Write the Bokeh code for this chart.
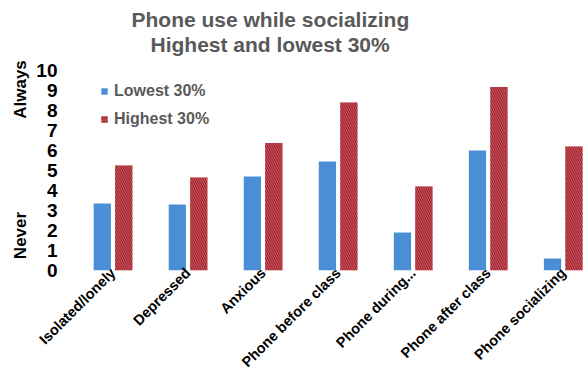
from math import pi
from bokeh.plotting import figure
from bokeh.layouts import row
from bokeh.models import Range1d, FixedTicker, ColumnDataSource, Title
from bokeh.core.properties import value
from bokeh.embed import file_html
from bokeh.resources import INLINE

categories = ["Isolated/lonely", "Depressed", "Anxious", "Phone before class",
              "Phone during...", "Phone after class", "Phone socializing"]
lowest_30 = [3.35, 3.3, 4.7, 5.45, 1.9, 6.0, 0.6]
highest_30 = [5.25, 4.65, 6.37, 8.4, 4.2, 9.17, 6.2]
y_ticks = [0, 1, 2, 3, 4, 5, 6, 7, 8, 9, 10]
end_labels = ["Always", "Never"]
end_label_pos = [9.05, 1.75]

FONT = "Liberation Sans"
xs = list(range(len(categories)))
src = ColumnDataSource(dict(
    xl=[x - 0.143 for x in xs], xh=[x + 0.143 for x in xs],
    low=lowest_30, high=highest_30))

yr = Range1d(0, 10.75)

# narrow side figure holding the "Always" / "Never" axis words
side = figure(width=33, height=379, output_backend="svg", toolbar_location=None,
              x_range=Range1d(0, 33), y_range=yr,
              x_axis_type=None, y_axis_type=None, min_border=0)
side.outline_line_color = None
side.grid.grid_line_color = None
side.text(x=[20, 20], y=end_label_pos, text=end_labels, angle=pi / 2,
          text_align="center", text_baseline="middle",
          text_font=value(FONT), text_font_style="bold",
          text_font_size="17px", text_color="black")

p = figure(width=550, height=379, output_backend="svg", toolbar_location=None,
           x_range=Range1d(-0.5, 6.27), y_range=yr,
           min_border_left=42, min_border_right=0, min_border_top=55,
           min_border_bottom=109)
p.outline_line_color = None
p.grid.grid_line_color = None
p.background_fill_color = "white"

p.vbar(x="xl", top="low", width=0.23, source=src, fill_color="#4a8fd6",
       line_color=None, legend_label="Lowest 30%")
p.vbar(x="xh", top="high", width=0.23, source=src, fill_color="#f26470",
       line_color=None, hatch_pattern="\\", hatch_color="#7c1820",
       hatch_scale=4.5, hatch_weight=1.1, legend_label="Highest 30%")

# titles (added nearest-first)
p.add_layout(Title(text="Highest and lowest 30%", align="left", offset=75,
                   text_font=FONT, text_font_style="bold", text_font_size="21px",
                   text_line_height=1.0,
                   text_color="#595959", standoff=0), "above")
p.add_layout(Title(text="Phone use while socializing", align="left", offset=56,
                   text_font=FONT, text_font_style="bold", text_font_size="21px",
                   text_line_height=1.0,
                   text_color="#595959", standoff=0), "above")

# axes
p.xaxis.ticker = FixedTicker(ticks=xs)
p.xaxis.major_label_overrides = {i: c for i, c in enumerate(categories)}
p.xaxis.major_label_orientation = pi / 4
p.xaxis.major_label_text_font = FONT
p.xaxis.major_label_text_font_style = "bold"
p.xaxis.major_label_text_font_size = "14.5px"
p.xaxis.major_label_text_line_height = 1.0
p.xaxis.major_label_text_color = "black"
p.xaxis.axis_line_color = None
p.xaxis.major_tick_line_color = None
p.xaxis.minor_tick_line_color = None
p.xaxis.major_tick_out = 0
p.xaxis.major_label_standoff = 0

p.yaxis.ticker = FixedTicker(ticks=y_ticks)
p.yaxis.major_label_text_font = FONT
p.yaxis.major_label_text_font_style = "bold"
p.yaxis.major_label_text_font_size = "19px"
p.yaxis.major_label_text_color = "black"
p.yaxis.axis_line_color = None
p.yaxis.major_tick_line_color = None
p.yaxis.minor_tick_line_color = None
p.yaxis.major_tick_out = 0
p.yaxis.major_label_standoff = 18

# legend
lg = p.legend[0]
lg.location = (25, 141)
lg.padding = 0
lg.margin = 0
lg.spacing = 8
lg.label_height = 20
lg.glyph_width = 8
lg.glyph_height = 8
lg.label_standoff = 6
lg.border_line_color = None
lg.background_fill_alpha = 0
lg.label_text_font = FONT
lg.label_text_font_style = "bold"
lg.label_text_font_size = "16px"
lg.label_text_color = "#595959"

layout = row(side, p, spacing=0)
open("out.html", "w").write(file_html(layout, INLINE))
